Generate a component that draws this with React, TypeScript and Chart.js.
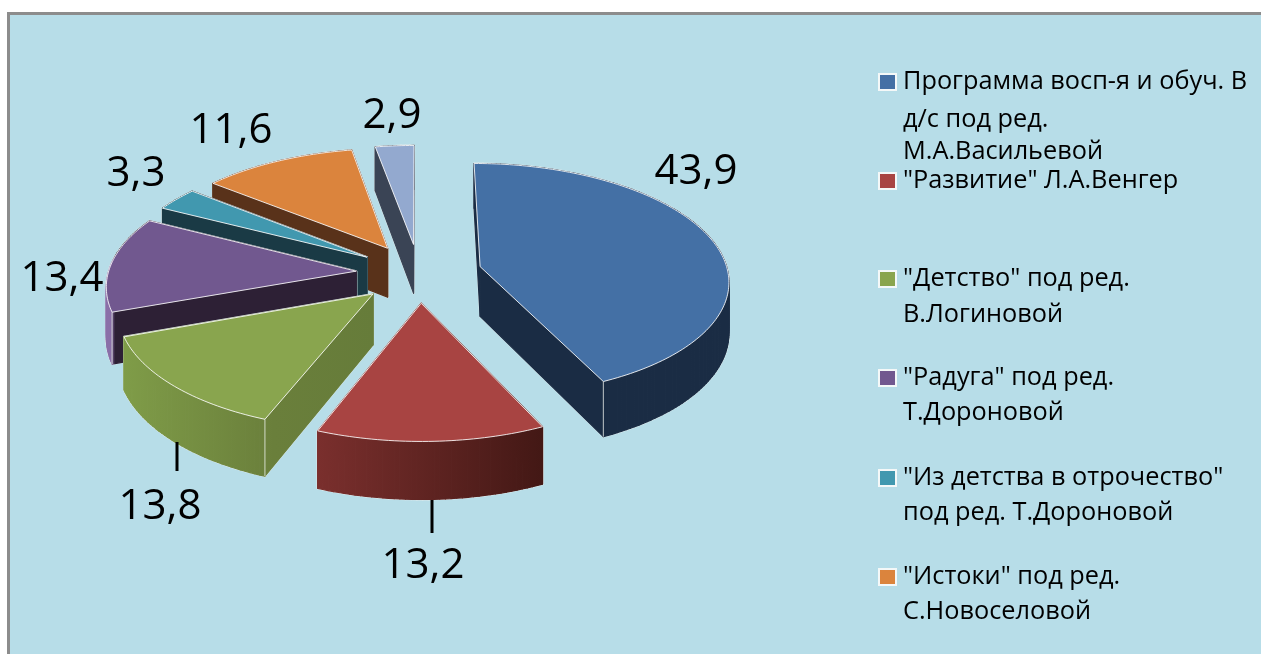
import React, { useEffect, useRef } from "react";
import { Chart, registerables } from "chart.js";

Chart.register(...registerables);

const categories = [
  "Программа восп-я и обуч. В д/с под ред. М.А.Васильевой",
  "\"Развитие\" Л.А.Венгер",
  "\"Детство\" под ред. В.Логиновой",
  "\"Радуга\" под ред. Т.Дороновой",
  "\"Из детства в отрочество\" под ред. Т.Дороновой",
  "\"Истоки\" под ред. С.Новоселовой",
  "",
];
const seriesValues = [43.9, 13.2, 13.8, 13.4, 3.3, 11.6, 2.9];
const valueLabels = ["43,9", "13,2", "13,8", "13,4", "3,3", "11,6", "2,9"];
const legendLines = [
  ["Программа восп-я и обуч. В", "д/с под ред.", "М.А.Васильевой"],
  ["\"Развитие\" Л.А.Венгер"],
  ["\"Детство\" под ред.", "В.Логиновой"],
  ["\"Радуга\" под ред.", "Т.Дороновой"],
  ["\"Из детства в отрочество\"", "под ред. Т.Дороновой"],
  ["\"Истоки\" под ред.", "С.Новоселовой"],
];

const topColors = ["#4470A5", "#A84442", "#89A54E", "#71588F", "#4198AF", "#DB843D", "#93A9CF"];
const wallStops: [number, string][][] = [
  [[0, "#1A2C44"], [1, "#1A2C44"]],
  [[0, "#7A2F2D"], [1, "#431815"]],
  [[0, "#7F9C48"], [0.6, "#6A7F3B"], [1, "#667C3A"]],
  [[0, "#8A6FA8"], [0.02, "#8A6FA8"], [0.035, "#2D2035"], [1, "#2D2035"]],
  [[0, "#1A3A45"], [1, "#1A3A45"]],
  [[0, "#59321A"], [1, "#59321A"]],
  [[0, "#3A4455"], [1, "#3A4455"]],
];

const PANEL_BG = "#B7DDE8";
const FONT = '"Open Sans", sans-serif';
const PERSP = 0.11;
const SQUASH = 0.467;
const WALL = 50;
const PAINT_ORDER = [6, 5, 4, 3, 2, 1, 0];
const LABEL_XY: [number, number][] = [
  [696, 172], [423, 566], [160, 507], [62, 279], [136, 174], [231, 131], [392, 116],
];
const LEADERS: [number, number, number, number][] = [
  [432, 500, 432, 533],
  [177, 442, 177, 471],
];
const LEGEND_X = 903;
const LEGEND_ROWS = [[82, 120, 152], [181], [279, 315], [378, 413], [478, 513], [577, 612]];

const pie3d = {
  id: "pie3d",
  beforeDatasetDraw(chart: any, args: any) {
    const ctx: CanvasRenderingContext2D = chart.ctx;
    const arcs = args.meta.data;
    for (const idx of PAINT_ORDER) {
      const a = arcs[idx];
      const R = a.outerRadius;
      const off = (a.options.offset || 0) / 4 / R;
      const mid = (a.startAngle + a.endAngle) / 2;
      const ox = Math.cos(mid) * off;
      const oy = -Math.sin(mid) * off;
      const proj = (nx: number, ny: number, drop: boolean) => {
        const w = 1 + PERSP * ny;
        return {
          x: a.x + (R * nx) / w,
          y: a.y - (R * SQUASH * ny) / w + (drop ? WALL / w : 0),
        };
      };
      const steps = Math.max(4, Math.ceil((a.endAngle - a.startAngle) / 0.02));
      const unit: [number, number][] = [[ox, oy]];
      for (let i = 0; i <= steps; i++) {
        const t = a.startAngle + ((a.endAngle - a.startAngle) * i) / steps;
        unit.push([ox + Math.cos(t), oy - Math.sin(t)]);
      }
      const top = unit.map((p) => proj(p[0], p[1], false));
      const bot = unit.map((p) => proj(p[0], p[1], true));

      const tracePoly = (pts: { x: number; y: number }[]) => {
        ctx.beginPath();
        pts.forEach((p, i) => (i ? ctx.lineTo(p.x, p.y) : ctx.moveTo(p.x, p.y)));
        ctx.closePath();
      };

      const xs = top.map((p) => p.x);
      const grad = ctx.createLinearGradient(Math.min(...xs), 0, Math.max(...xs), 0);
      wallStops[idx].forEach(([s, c]) => grad.addColorStop(s, c));

      ctx.save();
      ctx.lineJoin = "round";
      ctx.strokeStyle = "#DCE8EA";
      ctx.lineWidth = 2;
      for (let i = 0; i < top.length; i++) {
        const j = (i + 1) % top.length;
        tracePoly([top[i], top[j], bot[j], bot[i]]);
        ctx.stroke();
      }

      ctx.fillStyle = grad;
      ctx.strokeStyle = grad;
      ctx.lineWidth = 1.2;
      for (let i = 0; i < top.length; i++) {
        const j = (i + 1) % top.length;
        tracePoly([top[i], top[j], bot[j], bot[i]]);
        ctx.fill();
        ctx.stroke();
      }

      const toDeg = (r: number) => (((r + Math.PI / 2) * 180) / Math.PI + 360) % 360;
      const startDeg = toDeg(a.startAngle);
      const endDeg = toDeg(a.endAngle);
      ctx.strokeStyle = "rgba(235,240,235,0.8)";
      ctx.lineWidth = 1;
      if (endDeg > 90 && endDeg < 180) {
        const k = top.length - 1;
        ctx.beginPath();
        ctx.moveTo(top[k].x, top[k].y);
        ctx.lineTo(bot[k].x, bot[k].y);
        ctx.stroke();
      }
      if (startDeg > 180 && startDeg < 270) {
        ctx.beginPath();
        ctx.moveTo(top[1].x, top[1].y);
        ctx.lineTo(bot[1].x, bot[1].y);
        ctx.stroke();
      }

      tracePoly(top);
      ctx.fillStyle = a.options.backgroundColor;
      ctx.fill();
      ctx.strokeStyle = "rgba(255,255,255,0.85)";
      ctx.lineWidth = 1;
      ctx.stroke();
      ctx.restore();
    }
    return false;
  },
  afterDraw(chart: any) {
    const ctx: CanvasRenderingContext2D = chart.ctx;
    ctx.save();
    ctx.fillStyle = "#000";
    ctx.textBaseline = "middle";

    ctx.strokeStyle = "#000";
    ctx.lineWidth = 3;
    LEADERS.forEach(([x1, y1, x2, y2]) => {
      ctx.beginPath();
      ctx.moveTo(x1, y1);
      ctx.lineTo(x2, y2);
      ctx.stroke();
    });

    ctx.textAlign = "center";
    ctx.font = `42px ${FONT}`;
    valueLabels.forEach((t, i) => ctx.fillText(t, LABEL_XY[i][0], LABEL_XY[i][1]));

    ctx.textAlign = "left";
    ctx.font = `25.3px ${FONT}`;
    legendLines.forEach((lines, i) => {
      const ys = LEGEND_ROWS[i];
      ctx.fillStyle = "#F4F8F8";
      ctx.fillRect(878, ys[0] - 9, 19, 18);
      ctx.fillStyle = topColors[i];
      ctx.fillRect(880, ys[0] - 7, 15, 14);
      ctx.fillStyle = "#000";
      lines.forEach((t, k) => ctx.fillText(t, LEGEND_X, ys[k]));
    });
    ctx.restore();
  },
};

export default function App() {
  const ref = useRef<HTMLCanvasElement>(null);
  useEffect(() => {
    const chart = new Chart(ref.current!, {
      type: "pie",
      data: {
        labels: categories,
        datasets: [
          {
            data: seriesValues,
            backgroundColor: topColors,
            borderWidth: 0,
            offset: 252,
          },
        ],
      },
      options: {
        animation: false,
        responsive: false,
        radius: 248,
        rotation: 0,
        layout: { padding: { right: 423, bottom: 108 } },
        plugins: { legend: { display: false }, tooltip: { enabled: false } },
      } as any,
      plugins: [pie3d],
    });
    return () => chart.destroy();
  }, []);
  return (
    <div style={{ position: "absolute", left: 0, top: 0, width: 1261, height: 654, overflow: "hidden", background: "#fff" }}>
      <div
        style={{
          position: "absolute",
          left: 7,
          top: 12,
          width: 1270,
          height: 660,
          boxSizing: "border-box",
          background: PANEL_BG,
          border: "3px solid #8C8C8C",
        }}
      />
      <canvas ref={ref} width={1261} height={654} style={{ position: "absolute", left: 0, top: 0, display: "block" }} />
    </div>
  );
}
